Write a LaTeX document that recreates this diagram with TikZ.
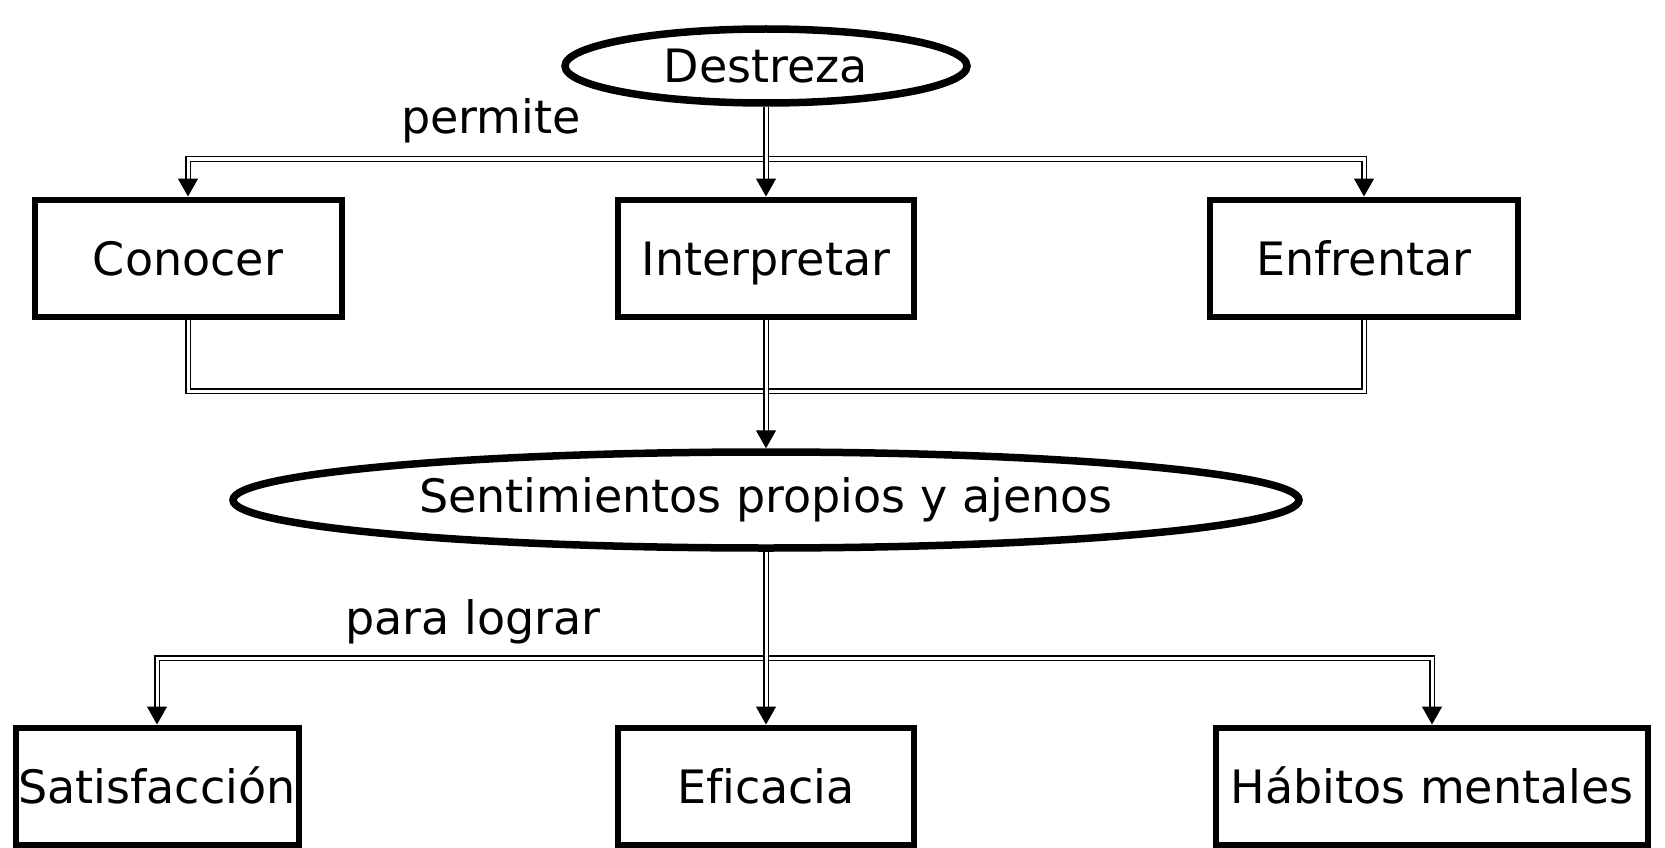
\documentclass[tikz,border=0pt]{standalone}
\usepackage{fontspec}
\setmainfont{DejaVu Sans}[Ligatures=NoCommon]
\usetikzlibrary{arrows.meta,shapes.geometric}

\tikzset{
  caja/.style={draw, line width=6pt, minimum height=117pt, inner sep=0pt, text height=34pt, text depth=0pt},
  elipse/.style={draw, ellipse, line width=7.5pt, inner sep=0pt},
  conn/.style={draw, double, line width=1.4pt, double distance=3pt},
  flecha/.style={conn, -{Triangle[length=18pt,width=20pt]}},
  etiqueta/.style={inner sep=0pt}
}

\begin{document}
\begin{tikzpicture}[x=1pt,y=1pt,yscale=-1,xscale=1,font=\fontsize{46}{55}\selectfont]
\useasboundingbox (0,0) rectangle (1665,848);

%Shape: Ellipse
\node[elipse, minimum width=402pt, minimum height=74pt] (destreza) at (766,66) {Destreza};
%Shape: Rectangle
\node[caja, minimum width=307pt] (conocer) at (188,258) {Conocer};
\node[caja, minimum width=296pt] (interp) at (766,258) {Interpretar};
\node[caja, minimum width=308pt] (enfrentar) at (1364,258) {Enfrentar};
%Shape: Ellipse
\node[elipse, minimum width=1066pt, minimum height=96pt] (sentim) at (766,500) {Sentimientos propios y ajenos};
%Shape: Rectangle
\node[caja, minimum width=283pt] (satisf) at (157,786) {Satisfacción};
\node[caja, minimum width=296pt] (eficacia) at (766,786) {Eficacia};
\node[caja, minimum width=432pt] (habitos) at (1432,786) {Hábitos mentales};

% Text Node
\node[etiqueta] (permite) at (491,121) {permite};
\node[etiqueta] (lograr) at (473,622) {para lograr};

%Straight Lines
\coordinate (barra1) at (766,159);
\coordinate (barra2) at (766,391);
\coordinate (barra3) at (766,658);

\draw[flecha] (barra1) -| (conocer.north);
\draw[flecha] (barra1) -| (enfrentar.north);
\draw[flecha] (destreza.south) -- (interp.north);

\draw[conn] (conocer.south) |- (barra2) -| (enfrentar.south);
\draw[flecha] (interp.south) -- (sentim.north);

\draw[flecha] (barra3) -| (satisf.north);
\draw[flecha] (barra3) -| (habitos.north);
\draw[flecha] (sentim.south) -- (eficacia.north);

\end{tikzpicture}
\end{document}
